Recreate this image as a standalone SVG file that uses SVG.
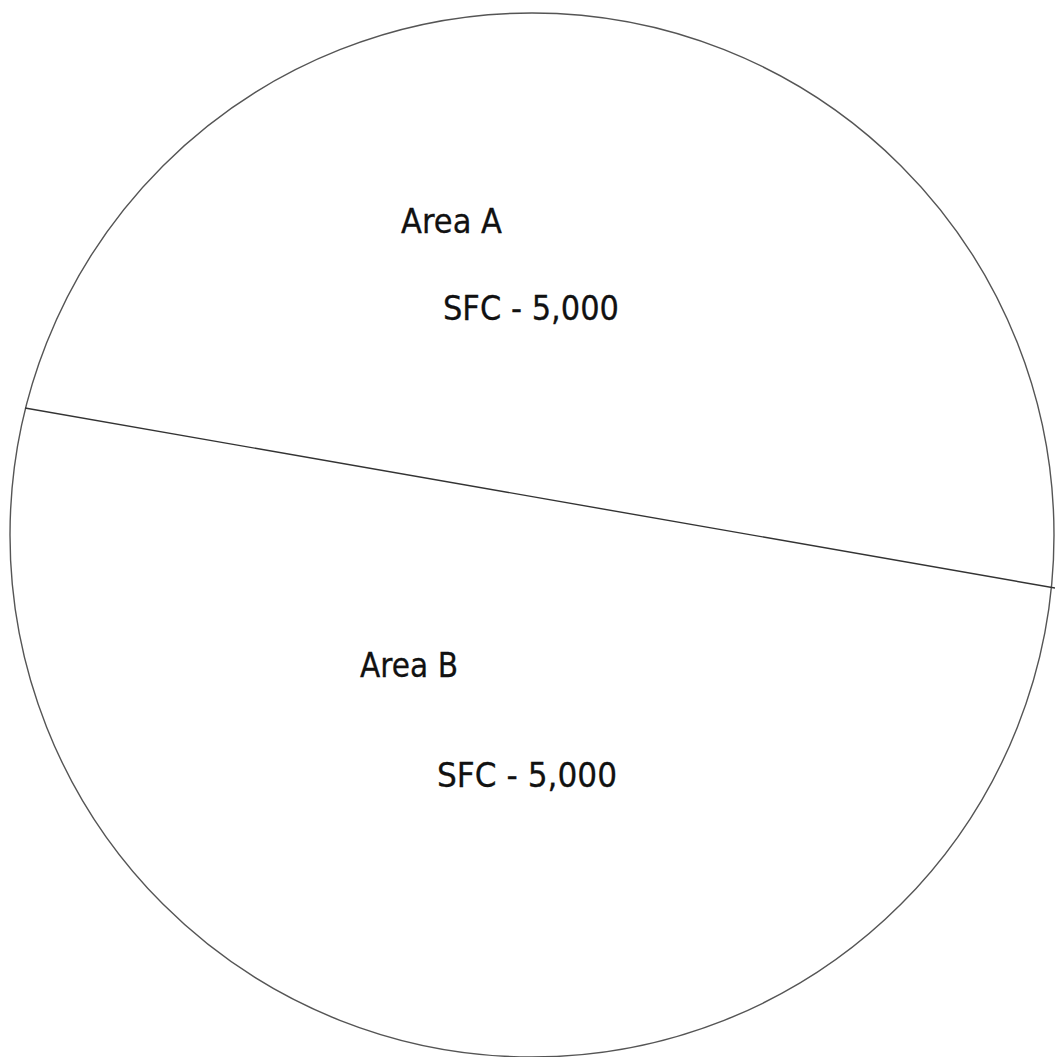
<svg xmlns="http://www.w3.org/2000/svg" width="1055" height="1057" viewBox="0 0 1055 1057">
<style>
.shape{fill:none;stroke:#555;stroke-width:1.4}
.div{fill:none;stroke:#333;stroke-width:1.4}
.lbl{font-family:"DejaVu Sans","Verdana",sans-serif;font-size:34px;fill:#111;stroke:#111;stroke-width:0.3}
</style>
<rect width="1055" height="1057" fill="#fff"/>
<g id="circle"><circle class="shape" cx="532" cy="535" r="522"/></g>
<g id="connectors"><line class="div" x1="25" y1="408" x2="1055" y2="588"/></g>
<g id="areaA">
<text class="lbl" x="401" y="233" textLength="101" lengthAdjust="spacingAndGlyphs">Area A</text>
<text class="lbl" x="443" y="320" textLength="176" lengthAdjust="spacingAndGlyphs">SFC - 5,000</text>
</g>
<g id="areaB">
<text class="lbl" x="360" y="677" textLength="98" lengthAdjust="spacingAndGlyphs">Area B</text>
<text class="lbl" x="437" y="787" textLength="180" lengthAdjust="spacingAndGlyphs">SFC - 5,000</text>
</g>
</svg>
